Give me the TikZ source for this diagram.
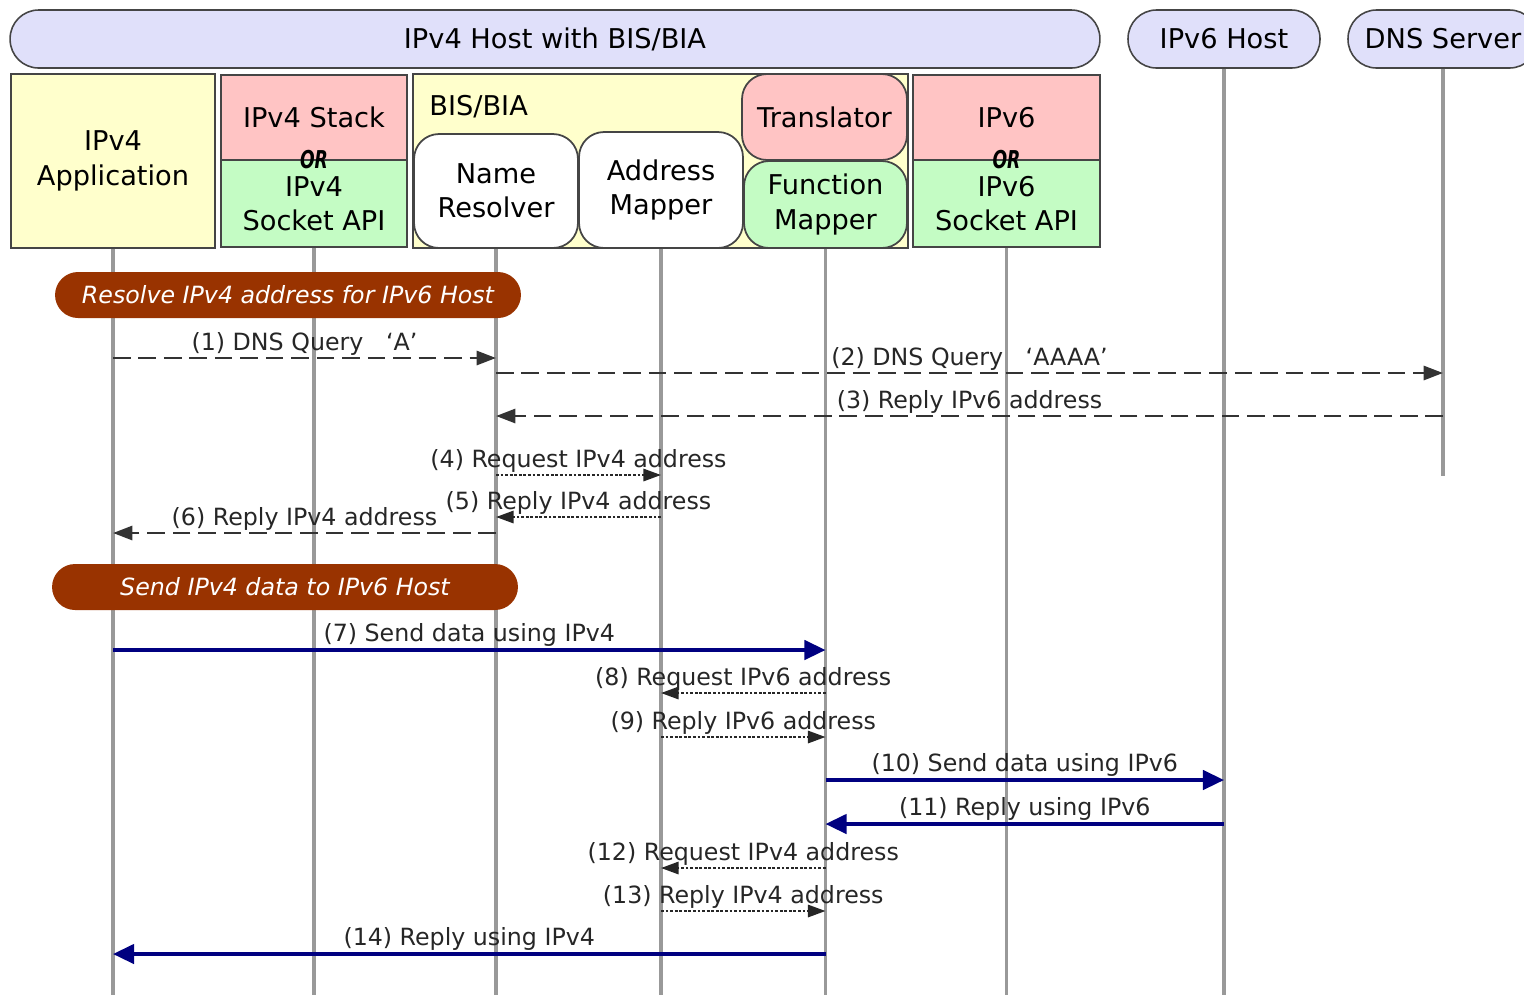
\documentclass[tikz,border=0pt]{standalone}
\usepackage{fontspec}
\setmainfont{DejaVu Sans}
\usetikzlibrary{arrows.meta}

\definecolor{hostblue}{HTML}{E0E0FA}
\definecolor{appyellow}{HTML}{FFFFCC}
\definecolor{stackpink}{HTML}{FFC4C4}
\definecolor{apigreen}{HTML}{C4FCC4}
\definecolor{stepbrown}{HTML}{993300}
\definecolor{datanavy}{HTML}{000080}
\definecolor{lifegray}{HTML}{999999}
\definecolor{edgegray}{HTML}{454545}

\newcommand{\boxfont}{\fontsize{15.5pt}{19.5pt}\selectfont}
\newcommand{\msgfont}{\fontsize{13.5pt}{16pt}\selectfont}
\newcommand{\ormark}{\scalebox{0.7}[1]{\fontsize{14pt}{14pt}\selectfont\bfseries\itshape OR}}

\begin{document}
\begin{tikzpicture}[x=0.02cm, y=-0.02cm,
    host/.style={draw=edgegray, line width=0.9pt, fill=hostblue, rounded corners=0.57cm,
        minimum height=1.16cm, inner sep=0pt, font=\boxfont},
    part/.style={draw=edgegray, line width=1pt, inner sep=0pt, align=center, font=\boxfont},
    func/.style={part, rounded corners=0.5cm},
    life/.style={draw=lifegray, line width=2pt},
    banner/.style={fill=stepbrown, text=white, rounded corners=0.46cm, minimum width=9.32cm,
        minimum height=0.92cm, inner sep=0pt, font=\msgfont\itshape},
    dashmsg/.style={draw=black!80, line width=1.5pt, dash pattern=on 10pt off 4.5pt,
        -{Triangle[length=11pt,width=8pt]}},
    dotmsg/.style={draw=black!85, line width=1.2pt, dash pattern=on 1.6pt off 1pt,
        -{Triangle[length=10pt,width=7pt]}},
    datamsg/.style={draw=datanavy, line width=2pt, -{Triangle[length=12pt,width=11pt]}},
    lbl/.style={above, midway, inner sep=1pt, font=\msgfont, text=black!85}]

    \useasboundingbox (0,0) rectangle (1524,995);

    % --- hosts ---
    \node[host, minimum width=21.8cm] (host4) at (555,39) {IPv4 Host with BIS/BIA};
    \node[host, minimum width=3.84cm] (host6) at (1224,39) {IPv6 Host};
    \node[host, minimum width=3.8cm] (dns) at (1443,39) {DNS Server};

    % --- IPv4 side ---
    \node[part, fill=appyellow, minimum width=4.08cm, minimum height=3.48cm] (app) at (113,161)
        {IPv4\\Application};
    \node[part, fill=stackpink, minimum width=3.72cm, minimum height=1.7cm] (ipv4stack) at (314,117.5)
        {IPv4 Stack};
    \node[part, fill=apigreen, minimum width=3.72cm, minimum height=1.74cm] (ipv4api) at (314,203.5)
        {IPv4\\Socket API};
    \node[inner sep=0pt] at (314,160) {\ormark};

    % --- BIS/BIA block ---
    \node[part, fill=appyellow, minimum width=9.9cm, minimum height=3.48cm] (bis) at (660.5,161) {};
    \node[anchor=west, inner sep=0pt, font=\boxfont] at (429,107) {BIS/BIA};
    \node[func, fill=white, minimum width=3.28cm, minimum height=2.28cm] (resolver) at (496,191)
        {Name\\Resolver};
    \node[func, fill=white, minimum width=3.28cm, minimum height=2.32cm] (mapper) at (661,190)
        {Address\\Mapper};
    \node[func, fill=stackpink, minimum width=3.3cm, minimum height=1.72cm] (xlat) at (824.5,117)
        {Translator};
    \node[func, fill=apigreen, minimum width=3.26cm, minimum height=1.74cm] (funcmap) at (825.5,204.5)
        {Function\\Mapper};

    % --- IPv6 side ---
    \node[part, fill=stackpink, minimum width=3.74cm, minimum height=1.7cm] (ipv6stack) at (1006.5,117.5)
        {IPv6};
    \node[part, fill=apigreen, minimum width=3.74cm, minimum height=1.74cm] (ipv6api) at (1006.5,203.5)
        {IPv6\\Socket API};
    \node[inner sep=0pt] at (1006.5,160) {\ormark};

    % --- lifelines ---
    \foreach \n in {app,ipv4api,resolver,mapper,funcmap,ipv6api,host6}
        \draw[life] (\n.south) -- (\n.south |- 0,995);
    \draw[life] (dns.south) -- (dns.south |- 0,476);

    % --- name lookup ---
    \node[banner] (resolve) at (288,295) {Resolve IPv4 address for IPv6 Host};

    \draw[dashmsg] (app.south |- 0,358) -- (resolver.south |- 0,358)
        node[lbl] {(1) DNS Query\ \ \ ‘A’};
    \draw[dashmsg] (resolver.south |- 0,373) -- (dns.south |- 0,373)
        node[lbl] {(2) DNS Query\ \ \ ‘AAAA’};
    \draw[dashmsg] (dns.south |- 0,416) -- (resolver.south |- 0,416)
        node[lbl] {(3) Reply IPv6 address};
    \draw[dotmsg] (resolver.south |- 0,475) -- (mapper.south |- 0,475)
        node[lbl] {(4) Request IPv4 address};
    \draw[dotmsg] (mapper.south |- 0,517) -- (resolver.south |- 0,517)
        node[lbl] {(5) Reply IPv4 address};
    \draw[dashmsg] (resolver.south |- 0,533) -- (app.south |- 0,533)
        node[lbl] {(6) Reply IPv4 address};

    % --- data exchange ---
    \node[banner] (send) at (285,587) {Send IPv4 data to IPv6 Host};

    \draw[datamsg] (app.south |- 0,650) -- (funcmap.south |- 0,650)
        node[lbl] {(7) Send data using IPv4};
    \draw[dotmsg] (funcmap.south |- 0,693) -- (mapper.south |- 0,693)
        node[lbl] {(8) Request IPv6 address};
    \draw[dotmsg] (mapper.south |- 0,737) -- (funcmap.south |- 0,737)
        node[lbl] {(9) Reply IPv6 address};
    \draw[datamsg] (funcmap.south |- 0,780) -- (host6.south |- 0,780)
        node[lbl] {(10) Send data using IPv6};
    \draw[datamsg] (host6.south |- 0,824) -- (funcmap.south |- 0,824)
        node[lbl] {(11) Reply using IPv6};
    \draw[dotmsg] (funcmap.south |- 0,868) -- (mapper.south |- 0,868)
        node[lbl] {(12) Request IPv4 address};
    \draw[dotmsg] (mapper.south |- 0,911) -- (funcmap.south |- 0,911)
        node[lbl] {(13) Reply IPv4 address};
    \draw[datamsg] (funcmap.south |- 0,954) -- (app.south |- 0,954)
        node[lbl] {(14) Reply using IPv4};
\end{tikzpicture}
\end{document}
